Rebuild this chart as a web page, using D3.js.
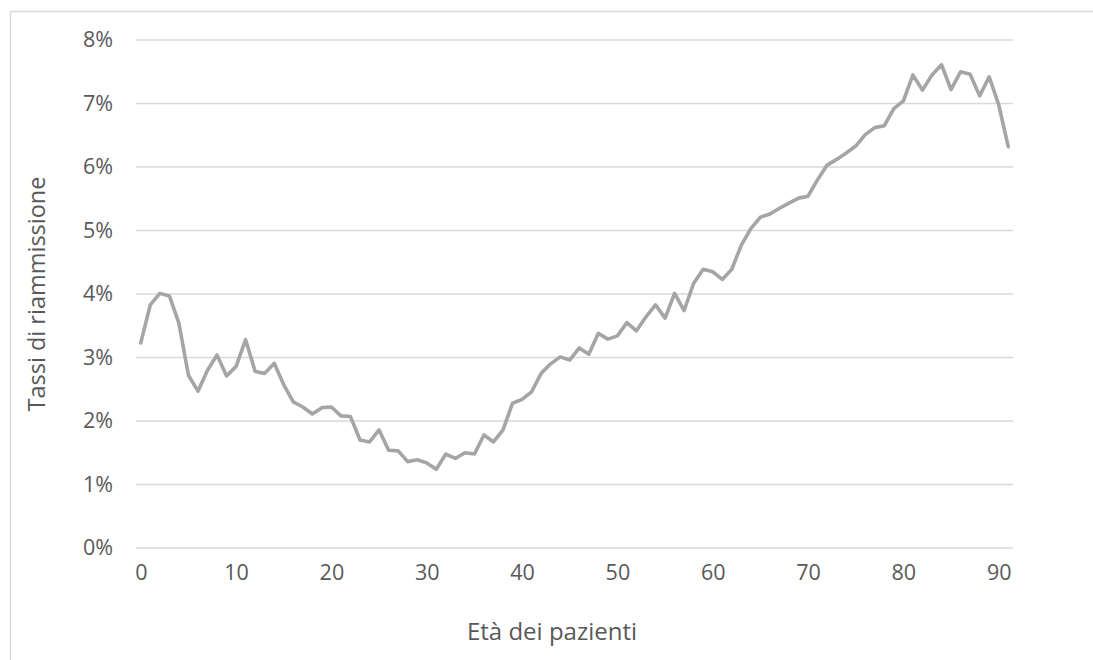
<!DOCTYPE html>
<html>
<head>
<meta charset="utf-8">
<script src="https://cdn.jsdelivr.net/npm/d3@7"></script>
<style>
  html, body { margin: 0; padding: 0; background: #ffffff; }
  svg { display: block; font-family: "Open Sans", "Noto Sans", sans-serif; }
</style>
</head>
<body>
<svg id="chart" width="1093" height="660"></svg>
<script>
// Ages 0..91
const ages = d3.range(0, 92);
// Readmission rates (%)
const rates = [
  3.23, 3.83, 4.01, 3.97, 3.54, 2.72, 2.47, 2.80, 3.04, 2.71,
  2.86, 3.28, 2.78, 2.75, 2.91, 2.57, 2.30, 2.22, 2.11, 2.21,
  2.22, 2.08, 2.07, 1.70, 1.67, 1.86, 1.54, 1.53, 1.36, 1.39,
  1.34, 1.24, 1.48, 1.41, 1.50, 1.48, 1.78, 1.67, 1.86, 2.28,
  2.34, 2.46, 2.75, 2.90, 3.01, 2.96, 3.15, 3.05, 3.38, 3.29,
  3.34, 3.55, 3.42, 3.64, 3.83, 3.62, 4.01, 3.74, 4.17, 4.39,
  4.35, 4.23, 4.39, 4.77, 5.03, 5.21, 5.26, 5.35, 5.43, 5.51,
  5.54, 5.80, 6.03, 6.12, 6.22, 6.33, 6.51, 6.62, 6.65, 6.92,
  7.04, 7.45, 7.21, 7.45, 7.61, 7.22, 7.50, 7.46, 7.12, 7.42,
  6.98, 6.32
];
const xTicks = [0, 10, 20, 30, 40, 50, 60, 70, 80, 90];
const yTicks = [0, 1, 2, 3, 4, 5, 6, 7, 8];
const xTitle = "Età dei pazienti";
const yTitle = "Tassi di riammissione";

const svg = d3.select("#chart");
const textColor = "#595959";
const gridColor = "#d9d9d9";

// outer chart border (extends past right and bottom edges)
svg.append("rect")
  .attr("x", 10.5).attr("y", 11.5)
  .attr("width", 1200).attr("height", 800)
  .attr("fill", "none").attr("stroke", gridColor).attr("stroke-width", 1.5);

const plotLeft = 136, plotRight = 1013, plotTop = 40, plotBottom = 548;

const x = d3.scalePoint().domain(ages).range([plotLeft, plotRight]).padding(0.5);
const y = d3.scaleLinear().domain([0, 8]).range([plotBottom, plotTop]);

// gridlines
svg.append("g")
  .selectAll("line").data(yTicks).join("line")
  .attr("x1", plotLeft).attr("x2", plotRight)
  .attr("y1", d => y(d)).attr("y2", d => y(d))
  .attr("stroke", gridColor).attr("stroke-width", 1.5);

// y axis labels
const yAxis = d3.axisLeft(y).tickValues(yTicks).tickSize(0).tickPadding(0)
  .tickFormat(d => d + "%");
svg.append("g").attr("transform", `translate(${113},0)`).call(yAxis)
  .call(g => g.select(".domain").remove())
  .call(g => g.selectAll("text").attr("fill", textColor)
    .attr("font-size", 21.5).attr("font-family", "Open Sans, sans-serif"));

// x axis labels
const xAxis = d3.axisBottom(x).tickValues(xTicks).tickSize(0).tickPadding(0);
svg.append("g").attr("transform", `translate(0,${565})`).call(xAxis)
  .call(g => g.select(".domain").remove())
  .call(g => g.selectAll("text").attr("fill", textColor)
    .attr("font-size", 21.5).attr("font-family", "Open Sans, sans-serif"));

// line
const line = d3.line().x((d, i) => x(ages[i])).y(d => y(d));
svg.append("path").datum(rates)
  .attr("d", line)
  .attr("fill", "none")
  .attr("stroke", "#a5a5a5")
  .attr("stroke-width", 3.6)
  .attr("stroke-linejoin", "round")
  .attr("stroke-linecap", "round");

// titles
svg.append("text")
  .attr("transform", `translate(36,${294}) rotate(-90)`)
  .attr("text-anchor", "middle").attr("dominant-baseline", "central")
  .attr("fill", textColor).attr("font-size", 23.5)
  .text(yTitle);

svg.append("text")
  .attr("x", 552).attr("y", 630)
  .attr("text-anchor", "middle").attr("dominant-baseline", "central")
  .attr("fill", textColor).attr("font-size", 24)
  .text(xTitle);
</script>
</body>
</html>
